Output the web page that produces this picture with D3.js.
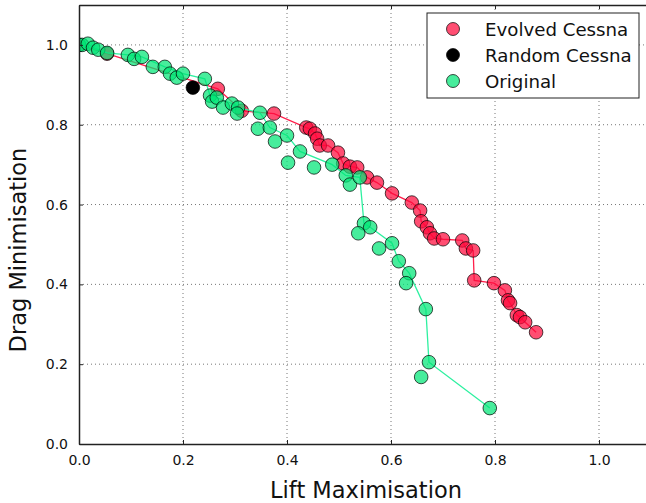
<!DOCTYPE html>
<html>
<head>
<meta charset="utf-8">
<script src="https://cdn.jsdelivr.net/npm/d3@7"></script>
<style>
  body { margin: 0; background: #fff; }
  svg { font-family: "DejaVu Sans", sans-serif; }
</style>
</head>
<body>
<svg id="chart" width="646" height="503"></svg>
<script>
// Evolved Cessna (red)
const evolvedX = [0.0, 0.054, 0.267, 0.313, 0.375, 0.437, 0.444, 0.454, 0.458, 0.463, 0.479, 0.498, 0.508, 0.521, 0.535, 0.554, 0.573, 0.602, 0.640, 0.656, 0.658, 0.669, 0.675, 0.683, 0.700, 0.737, 0.744, 0.758, 0.760, 0.798, 0.819, 0.825, 0.829, 0.842, 0.848, 0.858, 0.879];
const evolvedY = [1.0, 0.978, 0.890, 0.835, 0.828, 0.793, 0.790, 0.778, 0.765, 0.748, 0.748, 0.730, 0.703, 0.695, 0.693, 0.668, 0.655, 0.628, 0.605, 0.585, 0.558, 0.543, 0.528, 0.515, 0.513, 0.510, 0.490, 0.485, 0.410, 0.403, 0.385, 0.360, 0.353, 0.323, 0.318, 0.305, 0.280];

// Random Cessna (black)
const randomX = [0.219];
const randomY = [0.893];

// Original (green)
const originalX = [0.0, 0.006, 0.017, 0.027, 0.037, 0.054, 0.094, 0.106, 0.121, 0.142, 0.165, 0.175, 0.188, 0.200, 0.242, 0.252, 0.256, 0.265, 0.277, 0.294, 0.306, 0.304, 0.348, 0.344, 0.367, 0.377, 0.400, 0.425, 0.402, 0.452, 0.487, 0.513, 0.521, 0.540, 0.548, 0.560, 0.537, 0.602, 0.577, 0.615, 0.635, 0.629, 0.667, 0.673, 0.658, 0.790];
const originalY = [1.0, 1.0, 1.003, 0.993, 0.988, 0.980, 0.975, 0.965, 0.970, 0.945, 0.945, 0.928, 0.918, 0.928, 0.915, 0.873, 0.858, 0.868, 0.843, 0.853, 0.843, 0.828, 0.830, 0.790, 0.793, 0.758, 0.773, 0.733, 0.705, 0.693, 0.700, 0.673, 0.650, 0.668, 0.553, 0.543, 0.528, 0.503, 0.490, 0.458, 0.428, 0.403, 0.338, 0.205, 0.168, 0.090];

const xTicks = [0.0, 0.2, 0.4, 0.6, 0.8, 1.0];
const yTicks = [0.0, 0.2, 0.4, 0.6, 0.8, 1.0];
const legendLabels = ["Evolved Cessna", "Random Cessna", "Original"];

const redFill = "#ff0a3c", blackFill = "#000000", greenFill = "#00e676";
const redLine = "#ff1f4b", greenLine = "#2ef0a0";

const svg = d3.select("#chart");
const plotLeft = 79, plotTop = 5, plotRight = 651, plotBottom = 444;

const x = d3.scaleLinear().domain([0, 1.1]).range([plotLeft, plotRight]);
const y = d3.scaleLinear().domain([0, 1.1]).range([plotBottom, plotTop]);

const plot = svg.append("g");
svg.append("clipPath").attr("id", "clip")
  .append("rect").attr("x", plotLeft).attr("y", plotTop)
  .attr("width", plotRight - plotLeft).attr("height", plotBottom - plotTop);

// dotted grid
plot.append("g").selectAll("line").data(xTicks.slice(1)).join("line")
  .attr("x1", d => x(d)).attr("x2", d => x(d))
  .attr("y1", plotTop).attr("y2", plotBottom)
  .attr("stroke", "#777").attr("stroke-width", 1).attr("stroke-dasharray", "1,3");
plot.append("g").selectAll("line").data(yTicks.slice(1)).join("line")
  .attr("x1", plotLeft).attr("x2", plotRight)
  .attr("y1", d => y(d)).attr("y2", d => y(d))
  .attr("stroke", "#777").attr("stroke-width", 1).attr("stroke-dasharray", "1,3");

const zip = (xs, ys) => xs.map((v, i) => [v, ys[i]]);
const evolved = zip(evolvedX, evolvedY);
const random = zip(randomX, randomY);
const original = zip(originalX, originalY);

// non-dominated front of the original points gets the line
const sortedOrig = original.slice().sort((a, b) => b[0] - a[0]);
let best = -Infinity;
const front = [];
sortedOrig.forEach(p => { if (p[1] > best) { front.push(p); best = p[1]; } });
front.sort((a, b) => a[0] - b[0]);

const line = d3.line().x(d => x(d[0])).y(d => y(d[1]));
const data = plot.append("g").attr("clip-path", "url(#clip)");

function dots(pts, fill, op) {
  data.append("g").selectAll("circle").data(pts).join("circle")
    .attr("cx", d => x(d[0])).attr("cy", d => y(d[1])).attr("r", 6.8)
    .attr("fill", fill).attr("fill-opacity", op)
    .attr("stroke", "#000").attr("stroke-opacity", 0.7).attr("stroke-width", 1);
}

data.append("path").datum(evolved.slice().sort((a, b) => a[0] - b[0]))
  .attr("d", line).attr("fill", "none").attr("stroke", redLine).attr("stroke-width", 1.3);
dots(evolved, redFill, 0.72);
dots(random, blackFill, 1);
data.append("path").datum(front)
  .attr("d", line).attr("fill", "none").attr("stroke", greenLine).attr("stroke-width", 1.3);
dots(original, greenFill, 0.72);

// axes with inward ticks (top/right too)
svg.append("g").attr("transform", `translate(0,${plotBottom})`)
  .call(d3.axisBottom(x).tickValues(xTicks).tickFormat(d3.format(".1f")).tickSizeInner(-4).tickSizeOuter(0).tickPadding(11));
svg.append("g").attr("transform", `translate(${plotLeft},0)`)
  .call(d3.axisLeft(y).tickValues(yTicks).tickFormat(d3.format(".1f")).tickSizeInner(-4).tickSizeOuter(0).tickPadding(11));
svg.append("g").attr("transform", `translate(0,${plotTop})`)
  .call(d3.axisTop(x).tickValues(xTicks).tickFormat("").tickSizeInner(-4).tickSizeOuter(0));
svg.append("g").attr("transform", `translate(${plotRight},0)`)
  .call(d3.axisRight(y).tickValues(yTicks).tickFormat("").tickSizeInner(-4).tickSizeOuter(0));
svg.selectAll(".domain").attr("stroke", "#222").attr("stroke-width", 1.5);
svg.selectAll(".tick line").attr("stroke", "#222");
svg.selectAll(".tick text").attr("font-size", 14).attr("fill", "#111")
  .attr("font-family", "DejaVu Sans, sans-serif");

svg.append("text").attr("x", 366).attr("y", 498)
  .attr("text-anchor", "middle").attr("font-size", 22.5).attr("fill", "#111")
  .text("Lift Maximisation");
svg.append("text").attr("transform", "translate(26,250) rotate(-90)")
  .attr("text-anchor", "middle").attr("font-size", 22.5).attr("fill", "#111")
  .text("Drag Minimisation");

// legend
const lg = svg.append("g").attr("transform", "translate(427,13)");
lg.append("rect").attr("width", 212).attr("height", 85)
  .attr("fill", "#fff").attr("stroke", "#222").attr("stroke-width", 1);
const legendColors = [redFill, blackFill, greenFill];
const legendOp = [0.72, 1, 0.72];
legendLabels.forEach((lab, i) => {
  const row = lg.append("g").attr("transform", `translate(0,${16 + i * 26})`);
  row.append("circle").attr("cx", 26).attr("cy", 0).attr("r", 6.5)
    .attr("fill", legendColors[i]).attr("fill-opacity", legendOp[i])
    .attr("stroke", "#000").attr("stroke-opacity", 0.7);
  row.append("text").attr("x", 58).attr("y", 6.5).attr("font-size", 18.2)
    .attr("fill", "#111").text(lab);
});
</script>
</body>
</html>
